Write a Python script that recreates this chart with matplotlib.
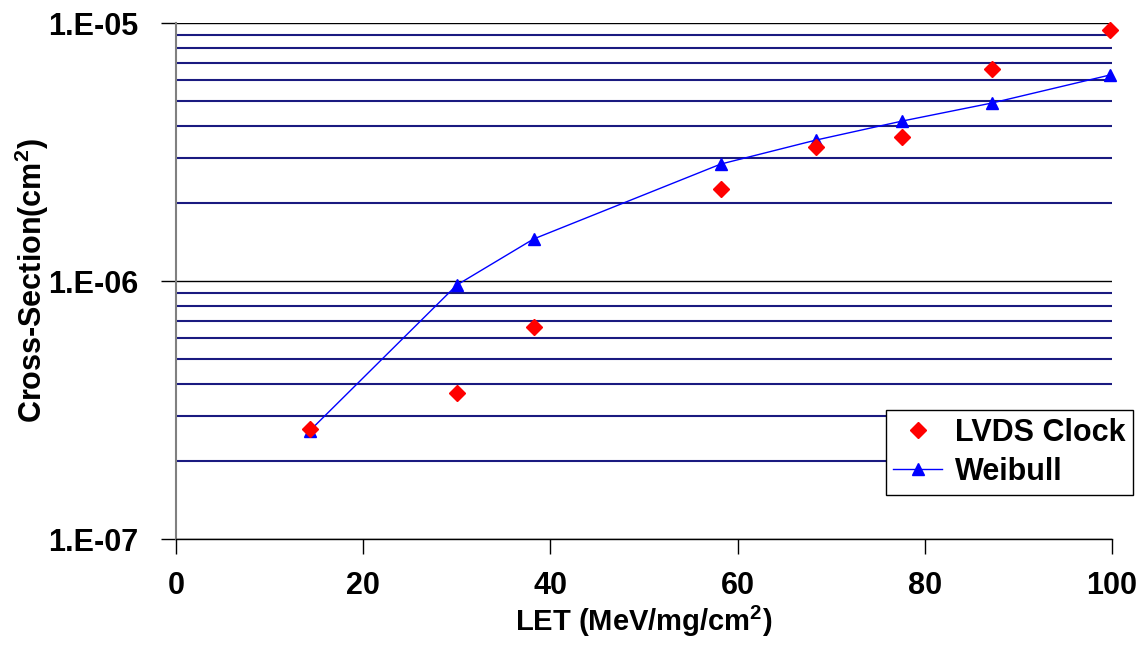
import matplotlib.pyplot as plt
from matplotlib.ticker import LogLocator, NullFormatter, FixedLocator

# LET values (MeV/mg/cm2)
let_lvds = [14.3, 30.0, 38.2, 58.2, 68.4, 77.6, 87.2, 99.8]
xs_lvds = [2.67e-7, 3.68e-7, 6.64e-7, 2.27e-6, 3.31e-6, 3.61e-6, 6.63e-6, 9.4e-6]

let_weib = [14.3, 30.0, 38.2, 58.2, 68.4, 77.6, 87.2, 99.8]
xs_weib = [2.63e-7, 9.65e-7, 1.455e-6, 2.84e-6, 3.52e-6, 4.17e-6, 4.9e-6, 6.29e-6]

x_ticks = [0, 20, 40, 60, 80, 100]
y_ticks = [1e-7, 1e-6, 1e-5]
y_labels = ['1.E-07', '1.E-06', '1.E-05']

plt.rcParams['font.family'] = ['Liberation Sans', 'DejaVu Sans']
plt.rcParams['font.weight'] = 'bold'
plt.rcParams['mathtext.fontset'] = 'custom'
plt.rcParams['mathtext.bf'] = 'Liberation Sans:bold'
plt.rcParams['mathtext.rm'] = 'Liberation Sans:bold'

fig = plt.figure(figsize=(11.46, 6.45), dpi=100)
ax = fig.add_axes([0.1536, 0.1643, 0.8167, 0.80])

ax.set_yscale('log')
ax.set_xlim(0, 100)
ax.set_ylim(1e-7, 1e-5)

# gridlines: minor navy, major black
ax.yaxis.set_minor_locator(LogLocator(base=10, subs=range(2, 10)))
ax.yaxis.set_minor_formatter(NullFormatter())
ax.grid(True, which='minor', axis='y', color='#1a1a80', linewidth=1.5)
ax.grid(True, which='major', axis='y', color='black', linewidth=1.0)
ax.set_axisbelow(True)

ax.plot(let_weib, xs_weib, color='blue', linewidth=1.0, marker='^',
        markersize=9, markerfacecolor='blue', markeredgecolor='blue',
        label='Weibull', zorder=3, clip_on=False)
ax.plot(let_lvds, xs_lvds, linestyle='none', marker='D', markersize=8,
        color='red', label='LVDS Clock', zorder=3, clip_on=False)

ax.yaxis.set_major_locator(FixedLocator(y_ticks))
ax.set_yticklabels(y_labels)
ax.set_xticks(x_ticks)
ax.tick_params(axis='y', which='minor', length=0)
ax.tick_params(axis='y', which='major', length=11, width=1, direction='out',
               labelsize=22, pad=16)
ax.tick_params(axis='x', length=11, width=1, direction='out', labelsize=22, pad=12)

for s in ['top', 'right']:
    ax.spines[s].set_visible(False)
ax.spines['left'].set_color('#808080')
ax.spines['left'].set_linewidth(1.5)
ax.spines['bottom'].set_color('black')
ax.spines['bottom'].set_linewidth(1.0)

ax.set_xlabel('LET (MeV/mg/cm$^{2}$)', fontsize=21, fontweight='bold',
              labelpad=2)
ax.set_ylabel('Cross-Section(cm$^{2}$)', fontsize=22, fontweight='bold',
              labelpad=-2)

handles, labels = ax.get_legend_handles_labels()
leg = ax.legend(handles[::-1], labels[::-1], loc='upper left',
                bbox_to_anchor=(0.773, 0.364), bbox_transform=fig.transFigure,
                fontsize=22, frameon=True, fancybox=False, edgecolor='black',
                framealpha=1, borderpad=0.25, handlelength=1.6,
                labelspacing=0.3, handletextpad=0.4, borderaxespad=0)
leg.get_frame().set_linewidth(1.0)

fig.savefig('out.png', dpi=100)
